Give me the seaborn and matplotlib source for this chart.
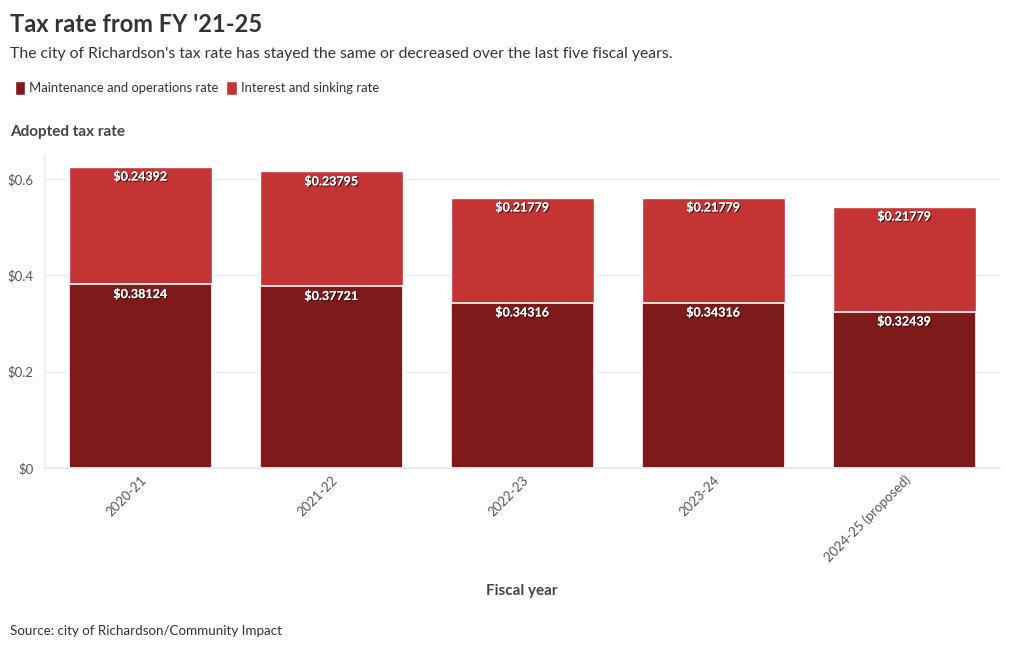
import matplotlib
matplotlib.use("Agg")
import matplotlib.pyplot as plt
import matplotlib.patheffects as pe
from matplotlib.patches import Patch
import seaborn as sns
import pandas as pd

# data
years = ["2020-21", "2021-22", "2022-23", "2023-24", "2024-25 (proposed)"]
mo_rate = [0.38124, 0.37721, 0.34316, 0.34316, 0.32439]
is_rate = [0.24392, 0.23795, 0.21779, 0.21779, 0.21779]

dark = "#7f1a1b"
light = "#c43434"

df = pd.DataFrame({"year": years, "mo": mo_rate, "is": is_rate})
df["total"] = df["mo"] + df["is"]

sns.set_theme(style="white")
plt.rcParams["font.family"] = ["Lato", "DejaVu Sans"]

fig = plt.figure(figsize=(10.2, 6.5), dpi=100)
ax = fig.add_axes([0.044, 0.28, 0.936, 0.482])

# totals in light red, then M&O on top in dark red
sns.barplot(data=df, x="year", y="total", color=light, width=0.75,
            saturation=1, ax=ax, zorder=2)
sns.barplot(data=df, x="year", y="mo", color=dark, width=0.75,
            saturation=1, edgecolor="white", linewidth=1.2, ax=ax, zorder=3)

shadow = [pe.withSimplePatchShadow(offset=(0.8, -0.8), shadow_rgbFace="#2a0808", alpha=0.9),
          pe.Normal()]
for i, row in df.iterrows():
    ax.text(i, row["total"] - 0.008, f"${row['is']:.5f}", ha="center", va="top",
            color="white", fontsize=9, fontweight="bold", path_effects=shadow, zorder=5)
    ax.text(i, row["mo"] - 0.008, f"${row['mo']:.5f}", ha="center", va="top",
            color="white", fontsize=9, fontweight="bold", path_effects=shadow, zorder=5)

ax.set_xlim(-0.5, 4.5)
ax.set_ylim(0, 0.65)
ax.set_yticks([0, 0.2, 0.4, 0.6])
ax.set_yticklabels(["$0", "$0.2", "$0.4", "$0.6"])
ax.yaxis.grid(True, color="#ebebeb", linewidth=0.8, zorder=0)
ax.set_axisbelow(True)
for s in ["top", "right"]:
    ax.spines[s].set_visible(False)
ax.spines["left"].set_color("#eeeeee")
ax.spines["bottom"].set_color("#e6e6e6")
ax.tick_params(axis="y", labelsize=9.5, colors="#555555", length=0, pad=8)
ax.tick_params(axis="x", labelsize=9.5, colors="#555555", length=0, pad=4)
plt.setp(ax.get_xticklabels(), rotation=45, ha="right", rotation_mode="anchor")
ax.set_xlabel("")
ax.set_ylabel("")

fig.text(0.01, 0.962, "Tax rate from FY '21-25", fontsize=17, fontweight="bold",
         color="#333333", va="center")
fig.text(0.01, 0.917, "The city of Richardson's tax rate has stayed the same or decreased over the last five fiscal years.",
         fontsize=11.3, color="#333333", va="center")
handles = [Patch(facecolor=dark, label="Maintenance and operations rate"),
           Patch(facecolor=light, label="Interest and sinking rate")]
fig.legend(handles=handles, loc="center left", bbox_to_anchor=(0.003, 0.865), ncol=2,
           frameon=False, fontsize=9.4, handlelength=0.8, handleheight=1.3,
           handletextpad=0.3, columnspacing=0.6, labelcolor="#333333")
fig.text(0.01, 0.797, "Adopted tax rate", fontsize=11, fontweight="bold",
         color="#444444", va="center")
fig.text(0.512, 0.091, "Fiscal year", fontsize=11, fontweight="bold",
         color="#444444", ha="center", va="center")
fig.text(0.01, 0.029, "Source: city of Richardson/Community Impact", fontsize=9.6,
         color="#333333", va="center")

fig.savefig("out.png", dpi=100)
